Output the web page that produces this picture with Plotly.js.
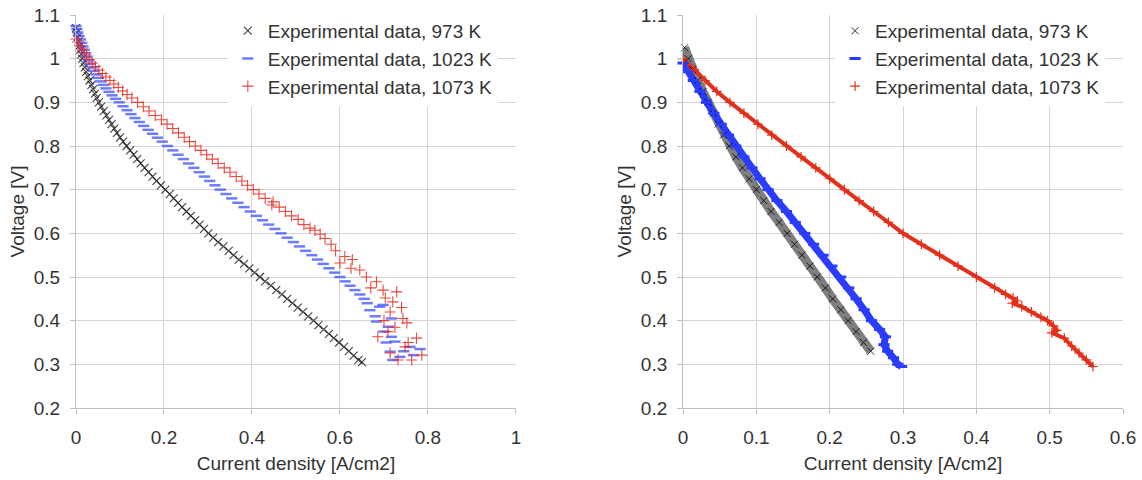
<!DOCTYPE html>
<html>
<head>
<meta charset="utf-8">
<script src="https://cdn.plot.ly/plotly-3.0.1.min.js"></script>
<style>html,body{margin:0;padding:0;background:#fff;}#chart{width:1142px;height:480px;}</style>
</head>
<body>
<div id="chart"></div>
<script>
// ---------- Data ----------
const seriesNames = ["Experimental data, 973 K", "Experimental data, 1023 K", "Experimental data, 1073 K"];
const xTitle = "Current density [A/cm2]";
const yTitle = "Voltage [V]";

// Left panel, 973 K
const leftJ973 = [0.000,0.002,0.004,0.006,0.008,0.010,0.012,0.014,0.017,0.020,
  0.023,0.027,0.031,0.035,0.039,0.043,0.047,0.052,0.057,0.063,
  0.069,0.075,0.081,0.087,0.093,0.100,0.107,0.115,0.123,0.131,
  0.139,0.147,0.156,0.165,0.174,0.183,0.193,0.203,0.213,0.222,
  0.232,0.241,0.251,0.261,0.271,0.281,0.291,0.301,0.312,0.323,
  0.335,0.347,0.358,0.370,0.382,0.394,0.406,0.418,0.430,0.443,
  0.455,0.468,0.480,0.492,0.504,0.516,0.528,0.540,0.551,0.563,
  0.575,0.586,0.598,0.609,0.620,0.631,0.642,0.650];
const leftV973 = [1.07,1.06,1.05,1.04,1.03,1.02,1.01,1.00,0.99,0.98,
  0.97,0.96,0.95,0.94,0.93,0.92,0.91,0.90,0.89,0.88,
  0.87,0.86,0.85,0.84,0.83,0.82,0.81,0.80,0.79,0.78,
  0.77,0.76,0.75,0.74,0.73,0.72,0.71,0.70,0.69,0.68,
  0.67,0.66,0.65,0.64,0.63,0.62,0.61,0.60,0.59,0.58,
  0.57,0.56,0.55,0.54,0.53,0.52,0.51,0.50,0.49,0.48,
  0.47,0.46,0.45,0.44,0.43,0.42,0.41,0.40,0.39,0.38,
  0.37,0.36,0.35,0.34,0.33,0.32,0.31,0.305];

// Left panel, 1023 K
const leftJ1023 = [0.000,0.002,0.004,0.007,0.010,0.013,0.016,0.019,0.022,0.025,
  0.029,0.033,0.037,0.041,0.046,0.051,0.056,0.062,0.068,0.075,
  0.082,0.090,0.098,0.107,0.116,0.125,0.134,0.144,0.154,0.164,
  0.174,0.185,0.196,0.208,0.220,0.232,0.244,0.256,0.268,0.280,
  0.292,0.304,0.316,0.328,0.341,0.354,0.368,0.382,0.396,0.410,
  0.424,0.438,0.452,0.466,0.480,0.494,0.508,0.522,0.536,0.549,
  0.562,0.575,0.588,0.600,0.612,0.623,0.634,0.645,0.655,0.662,
  0.668,0.690,0.698,0.680,0.683,0.717,0.710,0.700,0.717,0.705,
  0.725,0.714,0.736,0.759,0.767,0.745,0.720,0.782];
const leftV1023 = [1.075,1.068,1.060,1.052,1.044,1.036,1.028,1.020,1.012,1.004,
  0.996,0.988,0.980,0.972,0.964,0.956,0.948,0.940,0.932,0.924,
  0.916,0.908,0.900,0.891,0.882,0.873,0.864,0.855,0.846,0.837,
  0.828,0.819,0.810,0.800,0.790,0.780,0.770,0.760,0.750,0.740,
  0.730,0.720,0.710,0.700,0.690,0.680,0.670,0.660,0.650,0.640,
  0.630,0.620,0.610,0.600,0.590,0.580,0.570,0.560,0.550,0.540,
  0.530,0.520,0.510,0.500,0.490,0.480,0.470,0.460,0.450,0.440,
  0.424,0.432,0.436,0.410,0.398,0.405,0.386,0.375,0.363,0.350,
  0.352,0.329,0.317,0.340,0.321,0.330,0.310,0.335];

// Left panel, 1073 K
const leftJ1073 = [0.000,0.004,0.009,0.014,0.019,0.024,0.030,0.037,0.044,0.052,
  0.060,0.068,0.077,0.086,0.096,0.106,0.116,0.127,0.140,0.153,
  0.166,0.180,0.194,0.207,0.220,0.233,0.246,0.258,0.271,0.284,
  0.297,0.310,0.323,0.337,0.350,0.364,0.377,0.390,0.403,0.416,
  0.430,0.448,0.445,0.462,0.476,0.490,0.505,0.518,0.532,0.543,
  0.555,0.566,0.580,0.590,0.611,0.600,0.628,0.625,0.645,0.660,
  0.683,0.670,0.698,0.729,0.720,0.703,0.714,0.743,0.700,0.725,
  0.709,0.686,0.774,0.755,0.748,0.714,0.786,0.763,0.732,0.740,0.752];
const leftV1073 = [1.045,1.038,1.030,1.022,1.014,1.006,0.998,0.990,0.982,0.974,
  0.966,0.958,0.950,0.942,0.934,0.926,0.918,0.910,0.900,0.890,
  0.880,0.870,0.860,0.850,0.840,0.830,0.820,0.810,0.800,0.790,
  0.780,0.770,0.760,0.750,0.740,0.730,0.720,0.710,0.700,0.690,
  0.680,0.672,0.665,0.660,0.650,0.640,0.632,0.620,0.612,0.607,
  0.598,0.588,0.575,0.560,0.547,0.532,0.540,0.520,0.516,0.500,
  0.489,0.475,0.470,0.466,0.443,0.452,0.420,0.405,0.400,0.385,
  0.375,0.363,0.360,0.350,0.340,0.326,0.321,0.310,0.310,0.430,0.395];

// Right panel, 973 K
const rightJ973 = [0.002,0.007,0.013,0.020,0.027,0.034,0.041,0.048,0.055,0.063,
  0.072,0.081,0.090,0.100,0.110,0.120,0.131,0.142,0.152,0.162,
  0.173,0.183,0.194,0.204,0.215,0.225,0.236,0.246,0.256];
const rightV973 = [1.025,1.000,0.975,0.950,0.925,0.900,0.875,0.850,0.825,0.800,
  0.775,0.750,0.725,0.700,0.675,0.650,0.625,0.600,0.575,0.550,
  0.525,0.500,0.475,0.450,0.425,0.400,0.375,0.350,0.330];

// Right panel, 1023 K
const rightJ1023 = [0.000,0.007,0.014,0.023,0.032,0.042,0.052,0.062,0.072,0.083,
  0.094,0.105,0.116,0.128,0.141,0.153,0.166,0.178,0.191,0.203,
  0.215,0.226,0.236,0.247,0.257,0.268,0.276,0.274,0.279,0.287,0.293,0.298];
const rightV1023 = [0.990,0.970,0.950,0.925,0.900,0.875,0.850,0.825,0.800,0.775,
  0.750,0.725,0.700,0.675,0.650,0.625,0.600,0.575,0.550,0.525,
  0.500,0.475,0.450,0.425,0.400,0.380,0.363,0.345,0.330,0.315,0.300,0.295];

// Right panel, 1073 K
const rightJ1073 = [0.000,0.015,0.030,0.046,0.064,0.083,0.102,0.121,0.141,0.161,
  0.181,0.200,0.220,0.240,0.260,0.280,0.300,0.325,0.350,0.375,
  0.400,0.425,0.440,0.450,0.456,0.449,0.462,0.475,0.488,0.497,
  0.505,0.510,0.503,0.520,0.530,0.540,0.550,0.559];
const rightV1073 = [1.000,0.975,0.950,0.925,0.900,0.875,0.850,0.825,0.800,0.775,
  0.750,0.725,0.700,0.675,0.650,0.625,0.600,0.575,0.550,0.525,
  0.500,0.475,0.460,0.452,0.445,0.440,0.432,0.420,0.408,0.400,
  0.388,0.378,0.372,0.360,0.342,0.326,0.310,0.295];

// ---------- Styles ----------
const FONT = 'Liberation Sans, Arial, sans-serif';
const FS = 19;
const TXT = '#333333';
const GRID = '#d4d4d4';
const AXL = '#bfbfbf';

function pts(x, y, name, xa, ya, legend, group, marker) {
  return {type:'scatter', mode:'markers', x:x, y:y, name:name, xaxis:xa, yaxis:ya,
    legend:legend, legendgroup:group, cliponaxis:false, marker:marker, hoverinfo:'x+y'};
}
function band(x, y, xa, ya, group, color, width) {
  return {type:'scatter', mode:'lines', x:x, y:y, xaxis:xa, yaxis:ya, showlegend:false,
    legendgroup:group, line:{color:color, width:width}, hoverinfo:'skip'};
}

const mBlack = {symbol:'x-thin', size:8, color:'rgba(0,0,0,0.8)', line:{color:'rgba(0,0,0,0.75)', width:1.1}};
const mBlue = {symbol:'line-ew', size:8, color:'rgba(60,80,255,0.75)', line:{color:'rgba(60,80,255,0.75)', width:2.5}};
const mRed = {symbol:'cross-thin', size:8, color:'rgba(232,40,30,0.85)', line:{color:'rgba(232,40,30,0.85)', width:1.1}};
const mBlackR = {symbol:'x-thin', size:7, color:'rgba(0,0,0,0.8)', line:{color:'rgba(0,0,0,0.8)', width:1}};
const mBlueR = {symbol:'line-ew', size:8, color:'#2a3cff', line:{color:'#2a3cff', width:3}};
const mRedR = {symbol:'cross-thin', size:7, color:'#e2301a', line:{color:'#e2301a', width:1.2}};

const data = [
  pts(leftJ973, leftV973, seriesNames[0], 'x', 'y', 'legend', 'a', mBlack),
  pts(leftJ1023, leftV1023, seriesNames[1], 'x', 'y', 'legend', 'b', mBlue),
  pts(leftJ1073, leftV1073, seriesNames[2], 'x', 'y', 'legend', 'c', mRed),
  band(rightJ973, rightV973, 'x2', 'y2', 'd', 'rgba(0,0,0,0.5)', 9),
  band(rightJ1023, rightV1023, 'x2', 'y2', 'e', '#2a3cff', 7),
  band(rightJ1073, rightV1073, 'x2', 'y2', 'f', '#e2301a', 4),
  pts(rightJ973, rightV973, seriesNames[0], 'x2', 'y2', 'legend2', 'd', mBlackR),
  pts(rightJ1023, rightV1023, seriesNames[1], 'x2', 'y2', 'legend2', 'e', mBlueR),
  pts(rightJ1073, rightV1073, seriesNames[2], 'x2', 'y2', 'legend2', 'f', mRedR)
];

function xAxis(domain, range, dtick, anchor) {
  return {domain:domain, range:range, dtick:dtick, tick0:0, anchor:anchor,
    showgrid:true, gridcolor:GRID, gridwidth:1, zeroline:false,
    showline:true, linecolor:AXL, linewidth:1, mirror:false,
    ticks:'outside', ticklen:5, tickcolor:AXL, ticklabelstandoff:7,
    tickfont:{family:FONT, size:FS, color:TXT},
    title:{text:xTitle, font:{family:FONT, size:FS, color:TXT}, standoff:9},
    automargin:false, fixedrange:true};
}
function yAxis(anchor) {
  return {range:[0.2,1.1], dtick:0.1, tick0:0, anchor:anchor,
    showgrid:true, gridcolor:GRID, gridwidth:1, zeroline:false,
    showline:true, linecolor:AXL, linewidth:1,
    ticks:'outside', ticklen:5, tickcolor:AXL, ticklabelstandoff:6,
    tickfont:{family:FONT, size:FS, color:TXT},
    title:{text:yTitle, font:{family:FONT, size:FS, color:TXT}, standoff:4},
    automargin:false, fixedrange:true};
}

const legendBase = {y:1.008, yanchor:'top', xanchor:'left', bgcolor:'rgba(255,255,255,1)',
  borderwidth:0, traceorder:'grouped', tracegroupgap:0,
  font:{family:FONT, size:FS, color:TXT}};

const layout = {
  width:1142, height:480,
  margin:{l:76, r:19, t:15, b:72},
  paper_bgcolor:'#ffffff', plot_bgcolor:'#ffffff',
  font:{family:FONT, size:FS, color:TXT},
  showlegend:true,
  xaxis: xAxis([0, 0.4202], [0, 1], 0.2, 'y'),
  yaxis: yAxis('x'),
  xaxis2: xAxis([0.5798, 1], [0, 0.6], 0.1, 'y2'),
  yaxis2: yAxis('x2'),
  legend: Object.assign({}, legendBase, {x:0.145}),
  legend2: Object.assign({}, legendBase, {x:0.725})
};

Plotly.newPlot('chart', data, layout, {displayModeBar:false, staticPlot:true});
</script>
</body>
</html>
